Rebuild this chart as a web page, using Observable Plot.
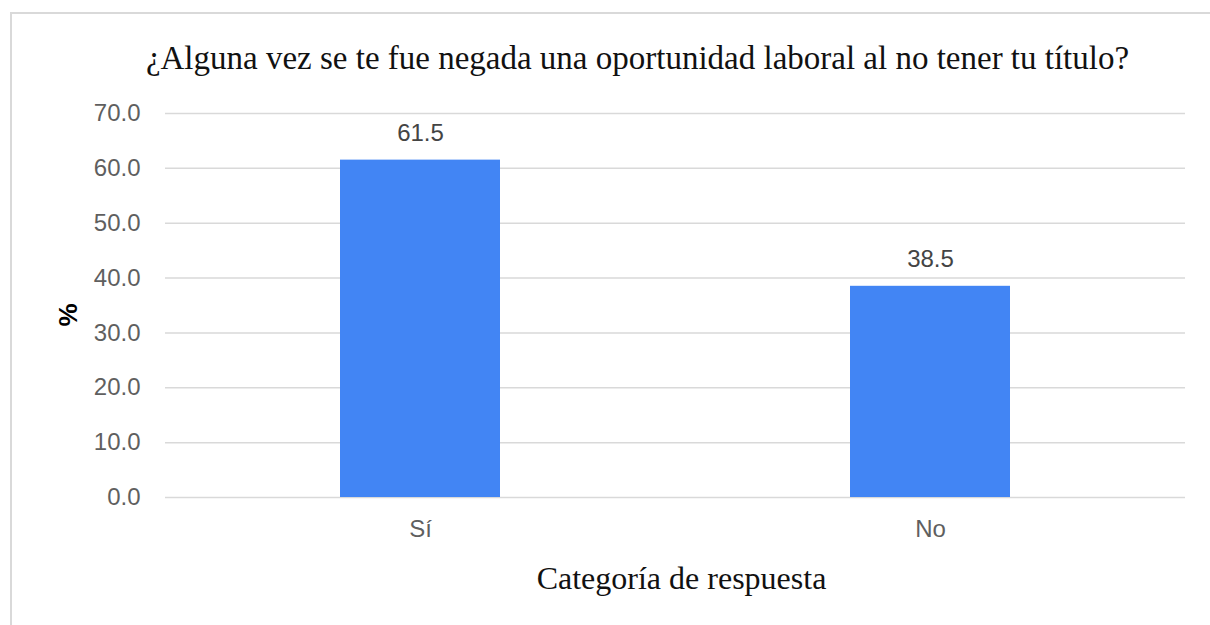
<!DOCTYPE html>
<html>
<head>
<meta charset="utf-8">
<script src="https://cdn.jsdelivr.net/npm/d3@7"></script>
<script src="https://cdn.jsdelivr.net/npm/@observablehq/plot@0.6"></script>
<style>
  html, body { margin: 0; padding: 0; background: #fff; width: 1210px; height: 625px; overflow: hidden; }
  #frame { position: absolute; left: 10px; top: 12px; width: 1220px; height: 640px; border: 2px solid #d9d9d9; box-sizing: border-box; }
  #title { position: absolute; left: 0; width: 1275px; top: 38px; text-align: center; font-family: "Liberation Serif", "DejaVu Serif", serif; font-size: 33px; line-height: 40px; color: #111; white-space: nowrap; }
  #chart { position: absolute; left: 0; top: 90px; }
  #chart svg { overflow: visible; }
</style>
</head>
<body>
<div id="frame"></div>
<div id="title"></div>
<div id="chart"></div>
<script>
const titleText = "¿Alguna vez se te fue negada una oportunidad laboral al no tener tu título?";
const categories = ["Sí", "No"];
const values = [61.5, 38.5];
const yTicks = [0, 10, 20, 30, 40, 50, 60, 70];
const xTitle = "Categoría de respuesta";
const yTitle = "%";

document.getElementById("title").textContent = titleText;

const data = categories.map((c, i) => ({ cat: c, val: values[i] }));

const chart = Plot.plot({
  width: 1210,
  height: 520,
  marginTop: 23,
  marginBottom: 113,
  marginLeft: 165,
  marginRight: 25,
  style: { fontFamily: "'Liberation Sans', Arial, sans-serif", fontSize: "24px", color: "#5f5f5f", background: "transparent" },
  x: { domain: categories, padding: 0 },
  y: { domain: [0, 70] },
  marks: [
    Plot.gridY(yTicks, { stroke: "#d9d9d9", strokeOpacity: 1, strokeWidth: 1.5 }),
    Plot.barY(data, { x: "cat", y: "val", fill: "#4285F4", insetLeft: 175, insetRight: 175 }),
    Plot.text(data, { x: "cat", y: "val", text: d => d.val.toFixed(1), dy: -27, fontSize: 24, fill: "#444" }),
    Plot.axisY(yTicks, { tickSize: 0, tickPadding: 25, tickFormat: d => d.toFixed(1), fontSize: 24, color: "#5f5f5f", label: null }),
    Plot.axisX({ tickSize: 0, tickPadding: 22, fontSize: 24, color: "#5f5f5f", label: null }),
    Plot.text([xTitle], { frameAnchor: "bottom", lineAnchor: "middle", dx: 6, dy: 81, text: d => d, fontFamily: "'Liberation Serif', 'DejaVu Serif', serif", fontSize: 32, fill: "#111" }),
    Plot.text([yTitle], { frameAnchor: "left", lineAnchor: "middle", dx: -97, dy: 21, rotate: -90, text: d => d, fontFamily: "'Liberation Sans', Arial, sans-serif", fontSize: 26, fontWeight: "bold", fill: "#000" })
  ]
});
document.getElementById("chart").appendChild(chart);
</script>
</body>
</html>
